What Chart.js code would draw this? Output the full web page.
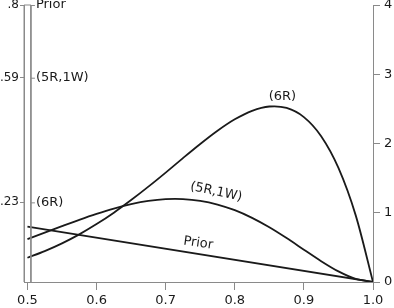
<!DOCTYPE html>
<html><head><meta charset="utf-8">
<script src="https://cdn.jsdelivr.net/npm/chart.js@4.4.1/dist/chart.umd.min.js"></script>
<style>html,body{margin:0;padding:0;background:#fff}#wrap{width:394px;height:308px}</style>
</head><body><div id="wrap"><canvas id="c" width="394" height="308"></canvas></div>
<script>
// x positions of curve samples
const xs = [0.5,0.525,0.55,0.575,0.6,0.625,0.65,0.675,0.7,0.725,0.75,0.775,0.8,0.825,0.85,0.875,0.9,0.925,0.95,0.975,1.0];
// densities
const sixR   = [0.350,0.446,0.558,0.688,0.836,1.001,1.183,1.377,1.580,1.789,1.993,2.184,2.349,2.472,2.534,2.513,2.381,2.105,1.647,0.962,0];
const fiveR1W= [0.618,0.712,0.806,0.898,0.984,1.061,1.124,1.171,1.197,1.198,1.173,1.119,1.037,0.926,0.790,0.634,0.467,0.301,0.153,0.044,0];
const priorX = [0.5,1.0];
const prior  = [0.8,0];
// point masses at x = 0.5 (left axis)
const massNames = ['Prior','(5R,1W)','(6R)'];
const massValues = [0.8,0.59,0.23];
const massLabels = ['.8','.59','.23'];
const xTicks = [0.5,0.6,0.7,0.8,0.9,1.0];
const rightTicks = [0,1,2,3,4];
// curve label anchors (data coords) and names
const curveNames = ['(6R)','(5R,1W)','Prior'];
const curveLabelX = [0.869,0.773,0.747];
const curveLabelY = [2.68,1.30,0.56];

const BAR_HALF = 0.005;
const GREY = '#8a8a8a';
const INK = '#1a1a1a';
const FONT = '13px "DejaVu Sans", sans-serif';

const pts = (X,Y)=>X.map((x,i)=>({x, y:Y[i]}));
const lineDs = (data)=>({data, yAxisID:'yR', borderColor:INK, borderWidth:1.8, pointRadius:0, tension:0.3, fill:false});
const noPad = s=>{s.paddingTop=0; s.paddingBottom=0; s.paddingLeft=0; s.paddingRight=0;};

const labelsPlugin = {
  id:'labelsPlugin',
  afterDatasetsDraw(chart){
    const ctx = chart.ctx, xS = chart.scales.x, yL = chart.scales.yL, yR = chart.scales.yR;
    ctx.save();
    ctx.font = FONT;
    ctx.fillStyle = INK;
    const bx = xS.getPixelForValue(0.5 + BAR_HALF);
    massValues.forEach((v,i)=>{
      const py = yL.getPixelForValue(v);
      ctx.strokeStyle = GREY; ctx.lineWidth = 1;
      ctx.beginPath(); ctx.moveTo(bx, py+0.5); ctx.lineTo(bx+4, py+0.5); ctx.stroke();
      ctx.textAlign = 'left'; ctx.textBaseline = 'middle';
      ctx.fillText(massNames[i], bx+5, py);
    });
    const rot = [0, 12, 8];
    curveNames.forEach((t,i)=>{
      const px = xS.getPixelForValue(curveLabelX[i]);
      const py = yR.getPixelForValue(curveLabelY[i]);
      ctx.save();
      ctx.translate(px, py);
      ctx.rotate(rot[i]*Math.PI/180);
      ctx.textAlign = 'center'; ctx.textBaseline = 'middle';
      ctx.fillText(t, 0, 0);
      ctx.restore();
    });
    ctx.restore();
  }
};

new Chart(document.getElementById('c'), {
  type:'line',
  data:{datasets:[
    {data:[{x:0.5-BAR_HALF,y:0},{x:0.5-BAR_HALF,y:massValues[0]},{x:0.5+BAR_HALF,y:massValues[0]},{x:0.5+BAR_HALF,y:0}],
     yAxisID:'yL', borderColor:GREY, borderWidth:1, pointRadius:0, tension:0, fill:false, clip:false},
    lineDs(pts(xs,sixR)),
    lineDs(pts(xs,fiveR1W)),
    Object.assign(lineDs(pts(priorX,prior)),{tension:0})
  ]},
  options:{
    responsive:false, animation:false, devicePixelRatio:1,
    layout:{padding:{top:5,left:0,right:0,bottom:0}},
    plugins:{legend:{display:false}, tooltip:{enabled:false}},
    scales:{
      x:{type:'linear', min:0.5-BAR_HALF, max:1.0,
        afterBuildTicks:a=>{a.ticks = xTicks.map(v=>({value:v}));},
        afterFit:s=>{s.height = 26; noPad(s);},
        ticks:{callback:v=>v.toFixed(1), color:INK, font:{family:'"DejaVu Sans", sans-serif', size:13}, padding:3, maxRotation:0, autoSkip:false},
        grid:{drawOnChartArea:false, color:GREY, tickLength:8, tickColor:GREY},
        border:{color:GREY, width:1}},
      yL:{type:'linear', position:'left', min:0, max:0.8,
        afterBuildTicks:a=>{a.ticks = massValues.map(v=>({value:v}));},
        afterFit:s=>{s.width = 24; noPad(s);},
        ticks:{callback:(v)=>massLabels[massValues.indexOf(v)], color:INK, font:{family:'"DejaVu Sans", sans-serif', size:12}, padding:1, autoSkip:false},
        grid:{drawOnChartArea:false, color:GREY, tickLength:4, tickColor:GREY},
        border:{color:GREY, width:1}},
      yR:{type:'linear', position:'right', min:0, max:4,
        afterBuildTicks:a=>{a.ticks = rightTicks.map(v=>({value:v}));},
        afterFit:s=>{s.width = 21; noPad(s);},
        ticks:{color:INK, font:{family:'"DejaVu Sans", sans-serif', size:13}, padding:4, autoSkip:false},
        grid:{drawOnChartArea:false, color:GREY, tickLength:7, tickColor:GREY},
        border:{color:GREY, width:1}}
    }
  },
  plugins:[labelsPlugin]
});
</script></body></html>
